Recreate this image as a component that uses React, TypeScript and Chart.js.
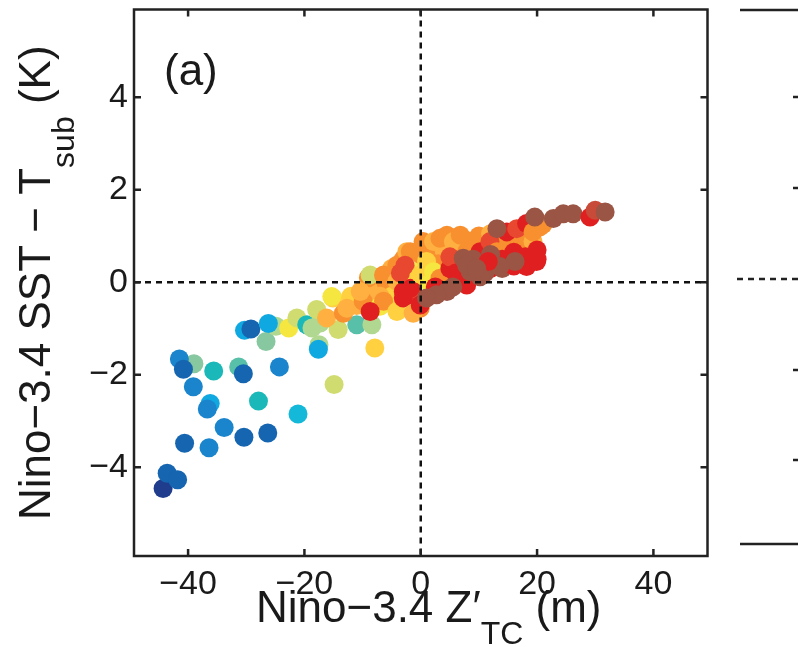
import React, { useEffect, useRef } from "react";
import { Chart, registerables } from "chart.js";

Chart.register(...registerables);

// ---- Data ----
const X_TICKS = [-40, -20, 0, 20, 40];
const Y_TICKS = [-4, -2, 0, 2, 4];
const X_MIN = -49.3;
const X_MAX = 49.3;
const Y_MIN = -5.92;
const Y_MAX = 5.9;

const PALETTE = [
  "#1f3d8c", "#1565b0", "#1a85cc", "#10a8e0", "#14b8d8", "#1ab8b8",
  "#58c0a8", "#88c8a0", "#b0d890", "#d0dc70", "#f5e640", "#ffd040",
  "#ffb040", "#f89030", "#f07030", "#e84830", "#e02020", "#c84a38", "#9a5545",
];

// Nino-3.4 Z'_TC (m)
const Z_TC = [
  // blue / green / yellow-green group
  -44.3, -43.6, -41.8, -40.6, -36.4, -33.8, -30.4, -26.3, -21.1, -27.9,
  -36.2, -36.7, -39.1, -39.0, -41.5, -40.8, -35.6, -31.3, -30.5, -24.3,
  -14.9, -17.5, -17.6, -7.9, -26.6, -24.9, -22.7, -30.3, -29.2, -26.2,
  -21.3, -19.6, -18.7, -17.3, -17.9, -14.2, -11.0, -8.4,
  // yellow / orange fill of the central cluster
  -8.0, -6.0, -5.0, -3.0, -2.0, -5.0, -7.0, -11.0, -12.0, -9.0,
  2.0, 4.0, 6.0, 8.0, 10.0, 12.0, 14.0, 16.0, 18.0, 21.0,
  3.0, -1.0, 0.5, 3.5, 0.0,
  // orange / red
  -16.2, -13.3, -15.1, -15.3, -12.7, -9.9, -10.4, -8.7, -7.0, -6.4,
  -6.4, -4.1, -4.1, -4.1, -2.4, -1.8, 0.4, -0.1, -8.7, -3.0,
  -1.3, -1.8, -2.7, -3.0, -1.3, -0.1, 0.0, -3.5,
  1.0, 2.2, 3.3, 4.5, 5.6, 6.8, 7.9, 9.6, 1.0, 2.2,
  1.6, 3.3, 5.0, 6.8, 7.9, 10.2, 11.9, 13.1, 15.3, 17.1,
  18.2, 19.3, 14.8, 16.5, 18.2, 19.3, 20.5,
  // red / brown
  12.0, 14.0, 16.0, 18.0, 20.0, 5.0, 6.0, 9.0, 11.0, 12.0,
  14.0, 16.0, 20.0, 2.5, 5.5,
  13.1, 19.6, 22.8,
  24.5, 26.2, 29.1, 30.0, 31.7, 19.9, 18.2, 16.2, 13.6, 11.6,
  10.2, 8.5, 7.3, 7.9, 9.6, 4.5, 2.7, 1.0,
];

// Nino-3.4 SST - T_sub (K)
const SST_TSUB = [
  -4.46, -4.13, -4.27, -3.48, -3.58, -3.14, -3.35, -3.26, -2.85, -2.57,
  -2.62, -2.74, -2.26, -1.76, -1.66, -1.88, -1.92, -1.83, -1.98, -1.83,
  -2.21, -1.35, -1.45, -1.42, -1.28, -0.95, -0.99, -1.04, -1.01, -0.89,
  -0.77, -0.92, -0.99, -0.88, -0.59, -1.02, -0.92, -0.92,
  -0.1, 0.0, 0.3, 0.5, 0.2, -0.3, -0.3, -0.5, -0.3, 0.1,
  0.6, 0.7, 0.6, 0.9, 1.0, 1.05, 0.9, 0.95, 1.1, 1.25,
  0.4, 0.1, 0.4, 0.9, 0.6,
  -0.77, -0.67, -0.34, -0.31, -0.56, -0.41, -0.2, 0.16, -0.52, 0.16,
  -0.41, -0.63, 0.02, 0.37, 0.66, 0.66, 0.88, -0.56, -0.63, -0.2,
  -0.27, -0.13, 0.37, -0.34, -0.67, -0.49, 0.17, 0.2,
  0.8, 0.88, 0.95, 1.02, 0.88, 1.02, 0.66, 0.8, 0.45, 0.23,
  -0.02, 0.09, 0.3, 0.09, -0.06, 0.66, 0.88, 0.66, 0.73, 0.88,
  0.91, 0.88, 1.09, 1.16, 1.27, 1.09, 1.2,
  0.3, 0.5, 0.65, 0.55, 0.7, 0.55, 0.2, 0.5, 0.2, 0.6,
  0.3, 0.35, 0.5, -0.1, -0.1,
  1.16, 1.41, 1.38,
  1.48, 1.48, 1.41, 1.56, 1.52, 0.45, 0.34, 0.45, 0.34, 0.45,
  0.12, 0.23, 0.52, 0.37, 0.3, -0.2, -0.27, -0.34,
];

const COLOR_INDEX = [
  0, 1, 1, 1, 2, 2, 1, 1, 4, 5,
  3, 2, 2, 7, 2, 1, 5, 6, 1, 2,
  9, 8, 3, 11, 7, 8, 10, 3, 1, 3,
  9, 5, 8, 8, 9, 9, 6, 8,
  12, 13, 12, 13, 12, 11, 12, 12, 11, 13,
  13, 12, 13, 13, 13, 12, 13, 12, 13, 13,
  13, 11, 10, 12, 13,
  12, 13, 11, 10, 12, 13, 12, 9, 10, 13,
  13, 11, 12, 13, 12, 13, 13, 13, 16, 16,
  15, 16, 15, 16, 12, 16, 11, 15,
  13, 12, 13, 13, 12, 13, 13, 13, 11, 10,
  10, 13, 16, 16, 16, 16, 15, 13, 13, 13,
  13, 12, 16, 15, 16, 13, 13,
  16, 16, 16, 16, 16, 15, 16, 18, 18, 18,
  18, 16, 16, 16, 18,
  18, 18, 18,
  18, 18, 16, 17, 18, 16, 16, 18, 18, 16,
  18, 18, 18, 18, 18, 18, 18, 18,
];

const FONT = "'Liberation Sans', Arial, Helvetica, sans-serif";
const INK = "#1a1a1a";

const fmt = (v: number) => (v < 0 ? "\u2212" + Math.abs(v) : String(v));

const decorPlugin = {
  id: "decor",
  afterDatasetsDraw(chart: any) {
    const { ctx, chartArea: a, scales } = chart;
    const xs = scales.x;
    const ys = scales.y;
    ctx.save();
    // zero dashed lines
    ctx.strokeStyle = "#111";
    ctx.lineWidth = 2.5;
    ctx.setLineDash([6, 5]);
    const x0 = xs.getPixelForValue(0);
    const y0 = ys.getPixelForValue(0);
    ctx.beginPath();
    ctx.moveTo(x0, a.top);
    ctx.lineTo(x0, a.bottom);
    ctx.moveTo(a.left, y0);
    ctx.lineTo(a.right, y0);
    ctx.stroke();
    ctx.setLineDash([]);

    // frame
    ctx.strokeStyle = "#222";
    ctx.lineWidth = 2.5;
    ctx.strokeRect(a.left, a.top, a.right - a.left, a.bottom - a.top);

    // inward ticks
    const tl = 7;
    ctx.beginPath();
    X_TICKS.forEach((v) => {
      const px = xs.getPixelForValue(v);
      ctx.moveTo(px, a.bottom);
      ctx.lineTo(px, a.bottom - tl);
      ctx.moveTo(px, a.top);
      ctx.lineTo(px, a.top + tl);
    });
    Y_TICKS.forEach((v) => {
      const py = ys.getPixelForValue(v);
      ctx.moveTo(a.left, py);
      ctx.lineTo(a.left + tl, py);
      ctx.moveTo(a.right, py);
      ctx.lineTo(a.right - tl, py);
    });
    ctx.stroke();

    // panel label
    ctx.fillStyle = INK;
    ctx.font = `44px ${FONT}`;
    ctx.textBaseline = "alphabetic";
    ctx.textAlign = "left";
    ctx.fillText("(a)", a.left + 30, a.top + 75);

    // x title
    const main = "Nino\u22123.4 Z\u2032";
    const sub = "TC";
    const tail = " (m)";
    ctx.font = `44px ${FONT}`;
    const wMain = ctx.measureText(main).width;
    const wTail = ctx.measureText(tail).width;
    ctx.font = `32px ${FONT}`;
    const wSub = ctx.measureText(sub).width;
    const total = wMain + wSub + wTail;
    let sx = (a.left + a.right) / 2 + 8 - total / 2;
    const by = 622;
    ctx.font = `44px ${FONT}`;
    ctx.fillText(main, sx, by);
    sx += wMain;
    ctx.font = `32px ${FONT}`;
    ctx.fillText(sub, sx, by + 22);
    sx += wSub;
    ctx.font = `44px ${FONT}`;
    ctx.fillText(tail, sx, by);

    // y title (rotated)
    const ymain = "Nino\u22123.4 SST \u2212 T";
    const ysub = "sub";
    const ytail = " (K)";
    ctx.font = `44px ${FONT}`;
    const w1 = ctx.measureText(ymain).width;
    const w3 = ctx.measureText(ytail).width;
    ctx.font = `32px ${FONT}`;
    const w2 = ctx.measureText(ysub).width;
    const tot = w1 + w2 + w3;
    ctx.translate(50, (a.top + a.bottom) / 2);
    ctx.rotate(-Math.PI / 2);
    let tx = -tot / 2;
    ctx.font = `44px ${FONT}`;
    ctx.fillText(ymain, tx, 0);
    tx += w1;
    ctx.font = `32px ${FONT}`;
    ctx.fillText(ysub, tx, 24);
    tx += w2;
    ctx.font = `44px ${FONT}`;
    ctx.fillText(ytail, tx, 0);
    ctx.setTransform(1, 0, 0, 1, 0, 0);

    // fragment of the neighbouring panel (b)
    ctx.strokeStyle = "#222";
    ctx.lineWidth = 2.5;
    ctx.beginPath();
    ctx.moveTo(740, 10);
    ctx.lineTo(798, 10);
    ctx.moveTo(740, 544);
    ctx.lineTo(798, 544);
    [97, 188, 370, 460].forEach((py) => {
      ctx.moveTo(793, py);
      ctx.lineTo(798, py);
    });
    ctx.stroke();
    ctx.setLineDash([6, 5]);
    ctx.beginPath();
    ctx.moveTo(737, 279);
    ctx.lineTo(798, 279);
    ctx.stroke();
    ctx.restore();
  },
};

export default function App() {
  const ref = useRef<HTMLCanvasElement | null>(null);
  useEffect(() => {
    if (!ref.current) return;
    const points = Z_TC.map((x, i) => ({ x, y: SST_TSUB[i] }));
    const colors = COLOR_INDEX.map((c) => PALETTE[c]);
    const chart = new Chart(ref.current, {
      type: "scatter",
      data: {
        datasets: [
          {
            data: points,
            backgroundColor: colors,
            borderWidth: 0,
            pointRadius: 9.5,
            pointHoverRadius: 9.5,
          },
        ],
      },
      options: {
        animation: false,
        responsive: false,
        events: [],
        layout: { padding: { left: 0, right: 90.5, top: 6, bottom: 0 } },
        plugins: { legend: { display: false }, tooltip: { enabled: false } },
        scales: {
          x: {
            type: "linear",
            min: X_MIN,
            max: X_MAX,
            afterBuildTicks: (s: any) => {
              s.ticks = X_TICKS.map((v) => ({ value: v }));
            },
            afterFit: (s: any) => {
              s.height = 91;
              s.paddingLeft = 0;
              s.paddingRight = 0;
            },
            grid: { display: false, drawTicks: false },
            border: { display: false },
            ticks: {
              padding: 8,
              color: INK,
              font: { family: FONT, size: 34 },
              callback: (v: any) => fmt(Number(v)),
              maxRotation: 0,
            },
          },
          y: {
            type: "linear",
            min: Y_MIN,
            max: Y_MAX,
            afterBuildTicks: (s: any) => {
              s.ticks = Y_TICKS.map((v) => ({ value: v }));
            },
            afterFit: (s: any) => {
              s.width = 134;
              s.paddingTop = 0;
              s.paddingBottom = 0;
            },
            grid: { display: false, drawTicks: false },
            border: { display: false },
            ticks: {
              padding: 6,
              color: INK,
              font: { family: FONT, size: 34 },
              callback: (v: any) => fmt(Number(v)),
            },
          },
        },
      },
      plugins: [decorPlugin],
    });
    return () => chart.destroy();
  }, []);
  return (
    <div style={{ position: "fixed", left: 0, top: 0, width: 798, height: 647, background: "#fff" }}>
      <canvas ref={ref} width={798} height={647} style={{ width: 798, height: 647, display: "block" }} />
    </div>
  );
}
